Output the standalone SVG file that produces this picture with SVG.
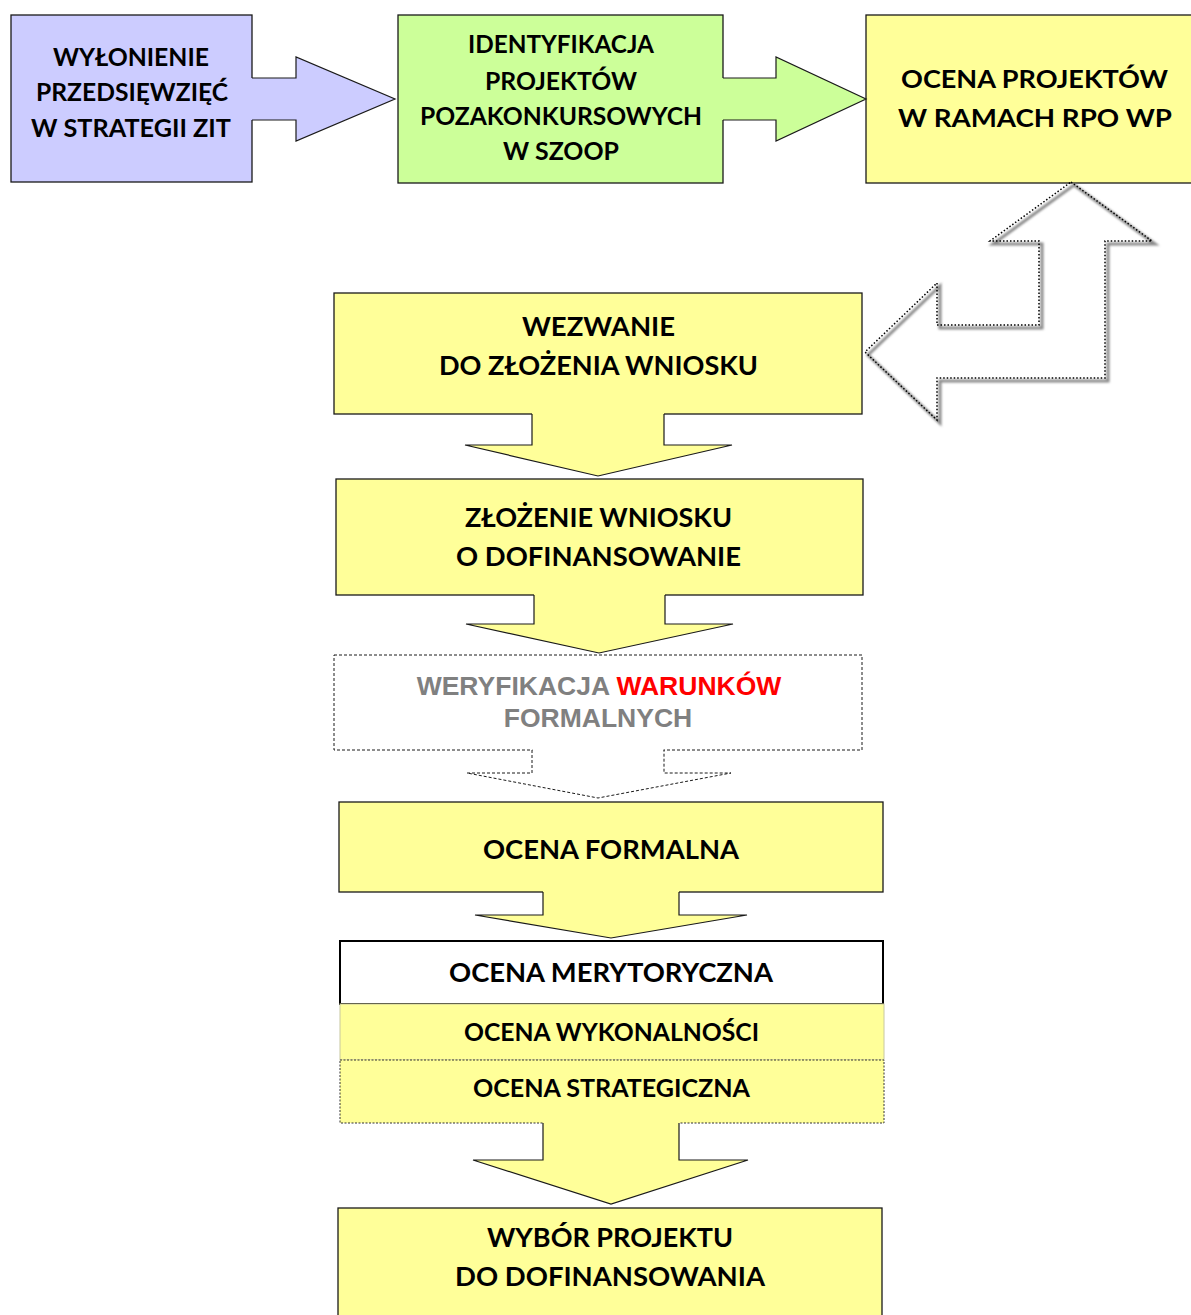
<svg xmlns="http://www.w3.org/2000/svg" width="1191" height="1315" viewBox="0 0 1191 1315">
<style>
.box{stroke:#1a1a1a;stroke-width:1.3}
.t{font-family:Lato,"Noto Sans","DejaVu Sans",sans-serif;font-weight:bold;fill:#000;text-anchor:middle}
.g{font-family:"Liberation Sans",Arial,sans-serif;font-weight:bold;font-size:26.5px;fill:#808080;text-anchor:middle}
.edge{fill:none;stroke:#1a1a1a;stroke-width:1.2;stroke-linejoin:miter}
.y{fill:#ffff99}
</style>
<defs>
<filter id="blur" x="-10%" y="-10%" width="120%" height="120%"><feGaussianBlur stdDeviation="0.8"/></filter>
</defs>
<rect width="1191" height="1315" fill="#ffffff"/>

<g id="node-wylonienie">
  <rect class="box" x="11" y="15" width="241" height="167" fill="#ccccff"/>
  <text class="t" font-size="24" x="131" y="66" textLength="156" lengthAdjust="spacingAndGlyphs">WYŁONIENIE</text>
  <text class="t" font-size="24" x="132" y="101" textLength="192" lengthAdjust="spacingAndGlyphs">PRZEDSIĘWZIĘĆ</text>
  <text class="t" font-size="24" x="131" y="137" textLength="200" lengthAdjust="spacingAndGlyphs">W STRATEGII ZIT</text>
</g>

<g id="node-identyfikacja">
  <rect class="box" x="398" y="15" width="325" height="168" fill="#ccff99"/>
  <text class="t" font-size="24" x="561" y="53" textLength="186" lengthAdjust="spacingAndGlyphs">IDENTYFIKACJA</text>
  <text class="t" font-size="24" x="561" y="90" textLength="152" lengthAdjust="spacingAndGlyphs">PROJEKTÓW</text>
  <text class="t" font-size="24" x="561" y="125" textLength="282" lengthAdjust="spacingAndGlyphs">POZAKONKURSOWYCH</text>
  <text class="t" font-size="24" x="561" y="160" textLength="116" lengthAdjust="spacingAndGlyphs">W SZOOP</text>
</g>

<g id="node-ocena-projektow">
  <rect class="box" x="866" y="15" width="337" height="168" fill="#ffff99"/>
  <text class="t" font-size="25" x="1034.5" y="88" textLength="267" lengthAdjust="spacingAndGlyphs">OCENA PROJEKTÓW</text>
  <text class="t" font-size="25" x="1035" y="127" textLength="274" lengthAdjust="spacingAndGlyphs">W RAMACH RPO WP</text>
</g>

<g id="node-wezwanie">
  <rect class="box y" x="334" y="293" width="528" height="121"/>
  <text class="t" font-size="26" x="598.5" y="336" textLength="153" lengthAdjust="spacingAndGlyphs">WEZWANIE</text>
  <text class="t" font-size="26" x="598.5" y="375" textLength="319" lengthAdjust="spacingAndGlyphs">DO ZŁOŻENIA WNIOSKU</text>
</g>

<g id="node-zlozenie">
  <rect class="box y" x="336" y="479" width="527" height="116"/>
  <text class="t" font-size="26" x="598.5" y="527" textLength="267" lengthAdjust="spacingAndGlyphs">ZŁOŻENIE WNIOSKU</text>
  <text class="t" font-size="26" x="598.5" y="566" textLength="285" lengthAdjust="spacingAndGlyphs">O DOFINANSOWANIE</text>
</g>

<g id="node-weryfikacja">
  <rect x="334" y="655" width="528" height="95" fill="#ffffff" stroke="#1a1a1a" stroke-width="1" stroke-dasharray="3,2"/>
  <text class="g" x="599" y="695">WERYFIKACJA <tspan fill="#ff0000">WARUNKÓW</tspan></text>
  <text class="g" x="598" y="727">FORMALNYCH</text>
</g>

<g id="node-ocena-formalna">
  <rect class="box y" x="339" y="802" width="544" height="90"/>
  <text class="t" font-size="26" x="611" y="859" textLength="256" lengthAdjust="spacingAndGlyphs">OCENA FORMALNA</text>
</g>

<g id="node-ocena-merytoryczna">
  <rect x="340" y="941" width="543" height="63" fill="#ffffff" stroke="#000" stroke-width="2"/>
  <text class="t" font-size="26" x="611" y="982" textLength="324" lengthAdjust="spacingAndGlyphs">OCENA MERYTORYCZNA</text>
</g>

<g id="node-ocena-wykonalnosci">
  <rect x="340" y="1004" width="544" height="56" fill="#ffff99" stroke="#c8c8a0" stroke-width="1"/>
  <text class="t" font-size="24" x="611.5" y="1041" textLength="295" lengthAdjust="spacingAndGlyphs">OCENA WYKONALNOŚCI</text>
</g>

<g id="node-ocena-strategiczna">
  <rect x="340" y="1060" width="544" height="63" fill="#ffff99" stroke="#333" stroke-width="1" stroke-dasharray="2,1.5"/>
  <text class="t" font-size="24" x="611.5" y="1097" textLength="277" lengthAdjust="spacingAndGlyphs">OCENA STRATEGICZNA</text>
</g>

<g id="node-wybor">
  <rect class="box y" x="338" y="1208" width="544" height="112"/>
  <text class="t" font-size="26" x="610" y="1247" textLength="246" lengthAdjust="spacingAndGlyphs">WYBÓR PROJEKTU</text>
  <text class="t" font-size="26" x="610" y="1286" textLength="310" lengthAdjust="spacingAndGlyphs">DO DOFINANSOWANIA</text>
</g>

<g id="connectors">
  <polygon fill="#ccccff" points="251,78 296,78 296,57 395,99 296,141 296,120 251,120"/>
  <polyline class="edge" points="252,78 296,78 296,57 395,99 296,141 296,120 252,120"/>
  <polygon fill="#ccff99" points="722,78 776,78 776,57 866,99 776,141 776,120 722,120"/>
  <polyline class="edge" points="723,78 776,78 776,57 866,99 776,141 776,120 723,120"/>
  <!-- bent return arrow -->
  <polygon fill="none" stroke="#8a8a8a" stroke-width="3" filter="url(#blur)" points="1074,185 1155,244 1108,244 1108,381 940,381 940,423 868,355 940,286 940,328 1042,328 1042,244 993,244"/>
  <polygon fill="none" stroke="#000" stroke-width="1.5" stroke-dasharray="1.5,2" points="1071,182 1152,241 1105,241 1105,378 937,378 937,420 865,352 937,283 937,325 1039,325 1039,241 990,241"/>
  <!-- down arrows -->
  <polygon class="y" points="532,413 664,413 664,445 732,445 598,476 465,445 532,445"/>
  <polyline class="edge" points="532,414 532,445 465,445 598,476 732,445 664,445 664,414"/>
  <polygon class="y" points="534,594 665,594 665,624 733,624 599,653 466,624 534,624"/>
  <polyline class="edge" points="534,595 534,624 466,624 599,653 733,624 665,624 665,595"/>
  <polygon fill="#ffffff" points="532.5,749 663.5,749 663.5,773 731,773 598,798 467,773 532.5,773"/>
  <polyline fill="none" stroke="#1a1a1a" stroke-width="1" stroke-dasharray="3,2" points="532,750 532,773 467,773 598,798 731,773 664,773 664,750"/>
  <polygon class="y" points="543,891 679,891 679,915 747,915 611,938 475,915 543,915"/>
  <polyline class="edge" points="543,892 543,915 475,915 611,938 747,915 679,915 679,892"/>
  <polygon class="y" points="543,1122 679,1122 679,1160 748,1160 611,1204 473,1160 543,1160"/>
  <polyline class="edge" points="543,1123 543,1160 473,1160 611,1204 748,1160 679,1160 679,1123"/>
</g>
</svg>
